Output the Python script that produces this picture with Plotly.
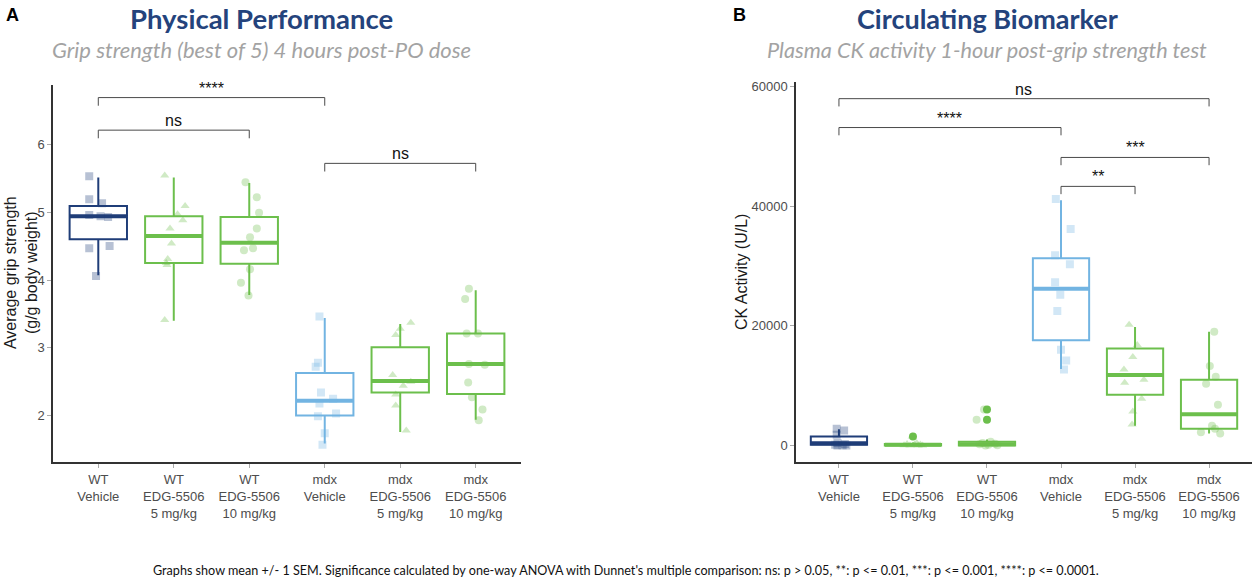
import plotly.graph_objects as go

W, H = 1254, 578

categories = ["WT<br>Vehicle", "WT<br>EDG-5506<br>5 mg/kg", "WT<br>EDG-5506<br>10 mg/kg",
              "mdx<br>Vehicle", "mdx<br>EDG-5506<br>5 mg/kg", "mdx<br>EDG-5506<br>10 mg/kg"]

# ---- Panel A: grip strength (g/g body weight) ----
grip_q1 = [4.60, 4.25, 4.24, 2.00, 2.34, 2.32]
grip_median = [4.94, 4.65, 4.55, 2.22, 2.51, 2.76]
grip_q3 = [5.09, 4.94, 4.93, 2.63, 3.01, 3.21]
grip_low = [4.07, 3.40, 3.78, 1.59, 1.76, 1.94]
grip_high = [5.51, 5.51, 5.43, 3.44, 3.35, 3.85]

grip_points = [
    [5.53, 5.19, 5.13, 4.96, 4.94, 4.93, 4.47, 4.50, 4.06],
    [5.54, 5.09, 4.97, 4.88, 4.76, 4.54, 4.31, 4.25, 4.22, 3.41],
    [5.44, 5.22, 4.99, 4.76, 4.63, 4.47, 4.44, 4.16, 3.96, 3.77],
    [3.46, 2.78, 2.72, 2.34, 2.25, 2.18, 2.03, 1.99, 1.74, 1.57],
    [3.37, 3.28, 3.19, 2.60, 2.50, 2.44, 2.31, 2.15, 1.78],
    [3.87, 3.72, 3.21, 3.21, 2.76, 2.75, 2.49, 2.27, 2.09, 1.93],
]
grip_jitter = [
    [-0.12, -0.12, 0.05, -0.12, 0.03, 0.13, -0.12, 0.15, -0.03],
    [-0.12, 0.15, 0.05, 0.12, -0.05, -0.03, -0.08, -0.10, -0.09, -0.12],
    [-0.05, 0.10, 0.13, 0.10, 0.01, 0.05, -0.07, 0.01, -0.11, -0.01],
    [-0.07, -0.09, -0.12, -0.05, 0.11, -0.07, 0.15, -0.09, 0.0, -0.03],
    [0.14, 0.0, -0.06, -0.10, 0.14, 0.04, -0.06, -0.06, 0.08],
    [-0.09, -0.14, -0.12, 0.03, -0.09, 0.12, -0.10, -0.05, 0.09, 0.04],
]
grip_brackets = [  # (from, to, height, label)
    (0, 3, 6.69, "****"),
    (0, 2, 6.21, "ns"),
    (3, 5, 5.72, "ns"),
]

# ---- Panel B: CK activity (U/L) ----
ck_q1 = [100, 0, 0, 17600, 8500, 2800]
ck_median = [350, 100, 200, 26200, 11800, 5200]
ck_q3 = [1500, 250, 600, 31300, 16200, 11000]
ck_low = [0, 0, 0, 12800, 3300, 2000]
ck_high = [2700, 500, 1000, 41000, 19800, 19000]
ck_outliers = [[], [1500], [6000, 4300], [], [], []]

ck_points = [
    [2800, 2500, 1800, 400, 250, 100, 50, 0, 0],
    [1500, 400, 250, 150, 100, 50, 0, 0, 0],
    [6000, 4300, 600, 400, 300, 200, 100, 50, 0],
    [41200, 36200, 31800, 30300, 27300, 25200, 22500, 16000, 14200, 12700],
    [20200, 16800, 14800, 12700, 11000, 10500, 7800, 5700, 3500],
    [19000, 13300, 11500, 10300, 6800, 3300, 2800, 2200, 2000],
]
ck_jitter = [
    [-0.03, 0.07, -0.03, -0.02, 0.08, -0.05, 0.05, -0.02, 0.10],
    [-0.01, 0.05, -0.08, 0.10, 0.02, -0.12, 0.13, -0.04, 0.07],
    [-0.04, -0.14, 0.05, -0.06, 0.11, -0.10, 0.02, 0.14, -0.02],
    [-0.07, 0.13, -0.08, 0.12, -0.08, -0.01, -0.05, 0.0, 0.07, 0.04],
    [-0.08, 0.03, -0.03, -0.15, 0.12, -0.14, 0.09, -0.03, -0.04],
    [0.07, 0.01, 0.09, -0.04, 0.12, 0.04, 0.08, -0.11, 0.15],
]
ck_brackets = [
    (0, 5, 58000, "ns"),
    (0, 3, 53170, "****"),
    (3, 5, 48170, "***"),
    (3, 4, 43330, "**"),
]

NAVY = "#1f3d78"
GREEN = "#6cbf4c"
LBLUE = "#72b4e2"
group_colors = [NAVY, GREEN, GREEN, LBLUE, GREEN, GREEN]
group_pt_colors = ["rgba(31,61,120,0.32)", "rgba(108,191,76,0.32)", "rgba(108,191,76,0.32)",
                   "rgba(114,180,226,0.32)", "rgba(108,191,76,0.32)", "rgba(108,191,76,0.32)"]
group_symbols = ["square", "triangle-up", "circle", "square", "triangle-up", "circle"]

ARIAL = "Liberation Sans"
BOXW = 0.76
fig = go.Figure()


def add_panel(xa, ya, q1, med, q3, lo, hi, pts, jit, brackets, tip, outliers=None):
    for i in range(6):
        fig.add_trace(go.Box(
            x=[i], q1=[q1[i]], median=[med[i]], q3=[q3[i]],
            lowerfence=[lo[i]], upperfence=[hi[i]],
            width=BOXW, whiskerwidth=0, boxpoints=False,
            line=dict(color=group_colors[i], width=2),
            fillcolor="rgba(255,255,255,0)",
            xaxis=xa, yaxis=ya, showlegend=False, hoverinfo="skip"))
        fig.add_trace(go.Scatter(
            x=[i - BOXW / 2, i + BOXW / 2], y=[med[i], med[i]], mode="lines",
            line=dict(color=group_colors[i], width=4),
            xaxis=xa, yaxis=ya, showlegend=False, hoverinfo="skip"))
        if outliers and outliers[i]:
            fig.add_trace(go.Scatter(
                x=[i] * len(outliers[i]), y=outliers[i], mode="markers",
                marker=dict(color=group_colors[i], size=8, symbol="circle"),
                xaxis=xa, yaxis=ya, showlegend=False, hoverinfo="skip"))
        fig.add_trace(go.Scatter(
            x=[i + j for j in jit[i]], y=pts[i], mode="markers",
            marker=dict(color=group_pt_colors[i], size=8, symbol=group_symbols[i],
                        line=dict(width=0)),
            xaxis=xa, yaxis=ya, showlegend=False, hoverinfo="skip"))
    for a, b, h, lab in brackets:
        fig.add_trace(go.Scatter(
            x=[a, a, b, b], y=[h - tip, h, h, h - tip], mode="lines",
            line=dict(color="#4a4a4a", width=1),
            xaxis=xa, yaxis=ya, showlegend=False, hoverinfo="skip", cliponaxis=False))
        fig.add_annotation(x=(a + b) / 2, y=h, xref=xa, yref=ya, text=lab,
                           showarrow=False, yanchor="bottom", yshift=-1,
                           font=dict(family=ARIAL, size=16, color="#111"))


add_panel("x", "y", grip_q1, grip_median, grip_q3, grip_low, grip_high,
          grip_points, grip_jitter, grip_brackets, 0.12)
add_panel("x2", "y2", ck_q1, ck_median, ck_q3, ck_low, ck_high,
          ck_points, ck_jitter, ck_brackets, 1300, ck_outliers)

tickfont = dict(family=ARIAL, size=13, color="#4d4d4d")
xcommon = dict(tickvals=list(range(6)), ticktext=categories, showgrid=False, zeroline=False,
               showline=True, linecolor="#333", linewidth=1.5, ticks="outside", ticklen=4,
               tickcolor="#aaa", tickfont=tickfont)
ycommon = dict(showgrid=False, zeroline=False, showline=True, linecolor="#333", linewidth=1.5,
               ticks="outside", ticklen=4, tickcolor="#aaa", tickfont=tickfont)


def px(x):
    return x / W


def py(y):
    return 1 - y / H


fig.update_layout(
    width=W, height=H, margin=dict(l=0, r=0, t=0, b=0),
    paper_bgcolor="white", plot_bgcolor="white", showlegend=False,
    boxmode="overlay",
    xaxis=dict(domain=[px(53), px(521)], range=[-0.6, 5.6], anchor="y", **xcommon),
    yaxis=dict(domain=[py(462), py(83)], range=[1.31, 6.88], anchor="x",
               tickvals=[2, 3, 4, 5, 6], **ycommon),
    xaxis2=dict(domain=[px(796), px(1252)], range=[-0.58, 5.58], anchor="y2", **xcommon),
    yaxis2=dict(domain=[py(462), py(80)], range=[-2833, 60833], anchor="x2",
                tickvals=[0, 20000, 40000, 60000], tickformat="d", **ycommon),
)

TITLE_FONT = "Lato"
anns = [
    dict(x=px(12), y=py(13), text="<b>A</b>", font=dict(family=ARIAL, size=18, color="#000")),
    dict(x=px(739), y=py(13), text="<b>B</b>", font=dict(family=ARIAL, size=18, color="#000")),
    dict(x=px(261), y=py(17), text="<b>Physical Performance</b>", font=dict(family=TITLE_FONT, size=27.5, color="#24437c")),
    dict(x=px(261), y=py(48), text="<i>Grip strength (best of 5) 4 hours post-PO dose</i>", font=dict(family=TITLE_FONT, size=22, color="#a3a3a3")),
    dict(x=px(987), y=py(17), text="<b>Circulating Biomarker</b>", font=dict(family=TITLE_FONT, size=27, color="#24437c")),
    dict(x=px(987), y=py(48), text="<i>Plasma CK activity 1-hour post-grip strength test</i>", font=dict(family=TITLE_FONT, size=21.7, color="#a3a3a3")),
    dict(x=px(21), y=py(272), text="Average grip strength<br>(g/g body weight)", textangle=-90,
         font=dict(family=ARIAL, size=16, color="#1a1a1a")),
    dict(x=px(741), y=py(271), text="CK Activity (U/L)", textangle=-90,
         font=dict(family=ARIAL, size=16, color="#1a1a1a")),
    dict(x=px(626), y=py(570), text="Graphs show mean +/- 1 SEM. Significance calculated by one-way ANOVA with Dunnet's multiple comparison: ns: p > 0.05, **: p <= 0.01, ***: p <= 0.001, ****: p <= 0.0001.",
         font=dict(family=TITLE_FONT, size=12.6, color="#111")),
]
for a in anns:
    fig.add_annotation(xref="paper", yref="paper", showarrow=False,
                       xanchor="center", yanchor="middle", **a)

fig.write_html("out.html")
